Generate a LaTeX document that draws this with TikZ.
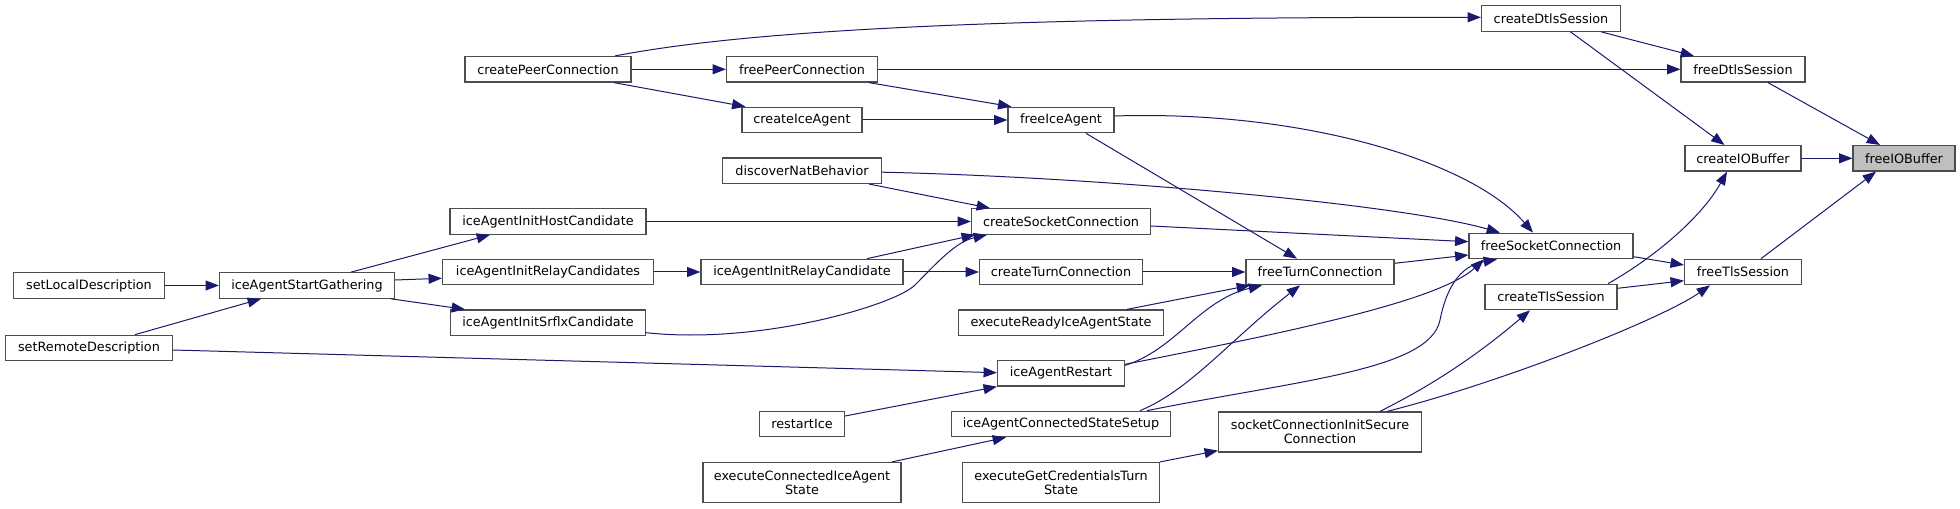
\documentclass[tikz,border=0pt]{standalone}
\usepackage{fontspec}
\setmainfont{DejaVu Sans}
\usetikzlibrary{arrows.meta,calc}
\definecolor{edgecol}{HTML}{191970}
\definecolor{nodeborder}{HTML}{4D4D4D}
\definecolor{grey75}{HTML}{BFBFBF}
\begin{document}
\begin{tikzpicture}[x=0.75pt,y=-0.75pt,
  fn/.style={draw=nodeborder, line width=0.9pt, fill=white, inner sep=0pt,
    minimum height=25.5*0.75pt, align=center, text=black,
    font=\fontsize{9.6}{10.4}\selectfont},
  fntwo/.style={fn, minimum height=40*0.75pt},
  bw/.style={minimum width=#1*0.75pt},
  cur/.style={fill=grey75},
  edge/.style={draw=edgecol, line width=0.75pt, -{Triangle[length=10pt,width=7.5pt]}}]
\useasboundingbox (0,0) rectangle (1960,509);
\fill[white] (0,0) rectangle (1960,509);

% rank 0
\node[fn, cur, bw=102] (freeIOBuffer) at (1904,158.3) {freeIOBuffer};
% rank 1
\node[fn, bw=124] (freeDtlsSession) at (1743,69.3) {freeDtlsSession};
\node[fn, bw=116] (createIOBuffer) at (1743,158.3) {createIOBuffer};
\node[fn, bw=117] (freeTlsSession) at (1743,272) {freeTlsSession};
% rank 2
\node[fn, bw=139] (createDtlsSession) at (1551,18.5) {createDtlsSession};
\node[fn, bw=164] (freeSocketConnection) at (1551,246) {freeSocketConnection};
\node[fn, bw=132] (createTlsSession) at (1551,297) {createTlsSession};
% rank 3
\node[fn, bw=148] (freeTurnConnection) at (1320,272) {freeTurnConnection};
\node[fntwo, bw=203] (socketConnectionInitSecureConnection) at (1320,432) {socketConnectionInitSecure\\Connection};
% rank 4
\node[fn, bw=106] (freeIceAgent) at (1061,120) {freeIceAgent};
\node[fn, bw=179] (createSocketConnection) at (1061,221.5) {createSocketConnection};
\node[fn, bw=163] (createTurnConnection) at (1061,272) {createTurnConnection};
\node[fn, bw=205] (executeReadyIceAgentState) at (1061,322.7) {executeReadyIceAgentState};
\node[fn, bw=127] (iceAgentRestart) at (1061,373.3) {iceAgentRestart};
\node[fn, bw=219] (iceAgentConnectedStateSetup) at (1061,424) {iceAgentConnectedStateSetup};
\node[fntwo, bw=197] (executeGetCredentialsTurnState) at (1061,482.5) {executeGetCredentialsTurn\\State};
% rank 5
\node[fn, bw=151] (freePeerConnection) at (802,69.3) {freePeerConnection};
\node[fn, bw=120] (createIceAgent) at (802,120) {createIceAgent};
\node[fn, bw=159] (discoverNatBehavior) at (802,170.7) {discoverNatBehavior};
\node[fn, bw=202] (iceAgentInitRelayCandidate) at (802,272) {iceAgentInitRelayCandidate};
\node[fn, bw=85] (restartIce) at (802,424) {restartIce};
\node[fntwo, bw=198] (executeConnectedIceAgentState) at (802,482.5) {executeConnectedIceAgent\\State};
% rank 6
\node[fn, bw=166] (createPeerConnection) at (548,69.3) {createPeerConnection};
\node[fn, bw=196] (iceAgentInitHostCandidate) at (548,221.5) {iceAgentInitHostCandidate};
\node[fn, bw=211] (iceAgentInitRelayCandidates) at (548,272) {iceAgentInitRelayCandidates};
\node[fn, bw=195] (iceAgentInitSrflxCandidate) at (548,322.7) {iceAgentInitSrflxCandidate};
% rank 7
\node[fn, bw=175] (iceAgentStartGathering) at (307,285.5) {iceAgentStartGathering};
% rank 8
\node[fn, bw=151] (setLocalDescription) at (89,285.5) {setLocalDescription};
\node[fn, bw=167] (setRemoteDescription) at (89,348) {setRemoteDescription};

% edges
\draw[edge] (createIOBuffer.east) -- (freeIOBuffer.west);
\draw[edge] ($(freeDtlsSession.south)+(25,0)$) -- ($(freeIOBuffer.north)+(-24,0)$);
\draw[edge] ($(freeTlsSession.north)+(18,0)$) -- ($(freeIOBuffer.south)+(-28,0)$);
\draw[edge] ($(createDtlsSession.south)+(50,0)$) -- ($(freeDtlsSession.north)+(-49,0)$);
\draw[edge] ($(createDtlsSession.south)+(19.5,0)$) -- ($(createIOBuffer.north)+(-18.5,0)$);
\draw[edge] (freePeerConnection.east) -- (freeDtlsSession.west);
\draw[edge] ($(createPeerConnection.north)+(67,0)$) .. controls (750,30) and (1000,17) .. ($(createDtlsSession.west)+(0,-1.2)$);
\draw[edge] (createPeerConnection.east) -- (freePeerConnection.west);
\draw[edge] ($(createPeerConnection.south)+(66,0)$) -- ($(createIceAgent.north west)+(4,0)$);
\draw[edge] ($(freePeerConnection.south)+(67,0)$) -- ($(freeIceAgent.north west)+(4,0)$);
\draw[edge] (createIceAgent.east) -- (freeIceAgent.west);
\draw[edge] ($(freeIceAgent.east)+(0,-4)$) .. controls (1300,110) and (1470,160) .. ($(freeSocketConnection.north)+(-18,0)$);
\draw[edge] ($(freeIceAgent.south)+(25,0)$) -- ($(freeTurnConnection.north)+(-23,0)$);
\draw[edge] ($(discoverNatBehavior.south)+(67,0)$) -- ($(createSocketConnection.north)+(-71,0)$);
\draw[edge] ($(discoverNatBehavior.east)+(0,1.5)$) .. controls (1100,177) and (1400,204) .. ($(freeSocketConnection.north)+(-51,0)$);
\draw[edge] ($(createSocketConnection.east)+(0,4.5)$) -- ($(freeSocketConnection.west)+(0,-4.3)$);
\draw[edge] (iceAgentInitHostCandidate.east) -- (createSocketConnection.west);
\draw[edge] ($(iceAgentInitRelayCandidate.north)+(65,0)$) -- ($(createSocketConnection.south west)+(4,0)$);
\draw[edge] ($(iceAgentInitSrflxCandidate.east)+(0,10)$) .. controls (760,345) and (895,305) .. (915,285) .. controls (935,265) and (955,242) .. ($(createSocketConnection.south west)+(16,0)$);
\draw[edge] ($(freeTurnConnection.east)+(0,-8.7)$) -- ($(freeSocketConnection.west)+(0,9)$);
\draw[edge] (createTurnConnection.east) -- (freeTurnConnection.west);
\draw[edge] (iceAgentInitRelayCandidate.east) -- (createTurnConnection.west);
\draw[edge] (iceAgentInitRelayCandidates.east) -- (iceAgentInitRelayCandidate.west);
\draw[edge] ($(iceAgentStartGathering.north)+(44,0)$) -- ($(iceAgentInitHostCandidate.south)+(-58,0)$);
\draw[edge] ($(iceAgentStartGathering.east)+(0,-5.5)$) -- ($(iceAgentInitRelayCandidates.west)+(0,6.3)$);
\draw[edge] ($(iceAgentStartGathering.south)+(84,0)$) -- ($(iceAgentInitSrflxCandidate.north)+(-83,0)$);
\draw[edge] (setLocalDescription.east) -- (iceAgentStartGathering.west);
\draw[edge] ($(setRemoteDescription.north)+(46,0)$) -- ($(iceAgentStartGathering.south)+(-46,0)$);
\draw[edge] ($(setRemoteDescription.east)+(0,2)$) -- ($(iceAgentRestart.west)+(0,-0.6)$);
\draw[edge] ($(executeReadyIceAgentState.north)+(66,0)$) -- ($(freeTurnConnection.south)+(-70,0)$);
\draw[edge] ($(iceAgentRestart.east)+(0,-8)$) .. controls (1175,350) and (1200,300) .. ($(freeTurnConnection.south)+(-58,0)$);
\draw[edge] ($(iceAgentRestart.east)+(0,-9)$) .. controls (1300,330) and (1440,300) .. ($(freeSocketConnection.south)+(-67,0)$);
\draw[edge] ($(iceAgentConnectedStateSetup.north)+(79,0)$) .. controls (1190,390) and (1230,340) .. ($(freeTurnConnection.south)+(-20,0)$);
\draw[edge] ($(iceAgentConnectedStateSetup.north)+(86,0)$) .. controls (1300,380) and (1430,370) .. (1440,320) .. controls (1448,280) and (1465,265) .. ($(freeSocketConnection.south)+(-54,0)$);
\draw[edge] ($(restartIce.east)+(0,-8)$) -- (iceAgentRestart.south west);
\draw[edge] ($(executeConnectedIceAgentState.north)+(90,0)$) -- ($(iceAgentConnectedStateSetup.south)+(-55,0)$);
\draw[edge] (executeGetCredentialsTurnState.north east) -- ($(socketConnectionInitSecureConnection.south west)+(0,-2)$);
\draw[edge] ($(socketConnectionInitSecureConnection.north)+(60,0)$) .. controls (1410,396) and (1460,370) .. ($(createTlsSession.south)+(-21,0)$);
\draw[edge] ($(socketConnectionInitSecureConnection.north)+(67,0)$) .. controls (1500,383) and (1660,320) .. ($(freeTlsSession.south)+(-33,0)$);
\draw[edge] ($(createTlsSession.east)+(0,-8.7)$) -- ($(freeTlsSession.west)+(0,8.7)$);
\draw[edge] ($(freeSocketConnection.east)+(0,10.7)$) -- ($(freeTlsSession.west)+(0,-7)$);
\draw[edge] ($(createTlsSession.north)+(57,0)$) .. controls (1650,260) and (1700,220) .. ($(createIOBuffer.south)+(-16,0)$);
\end{tikzpicture}
\end{document}
